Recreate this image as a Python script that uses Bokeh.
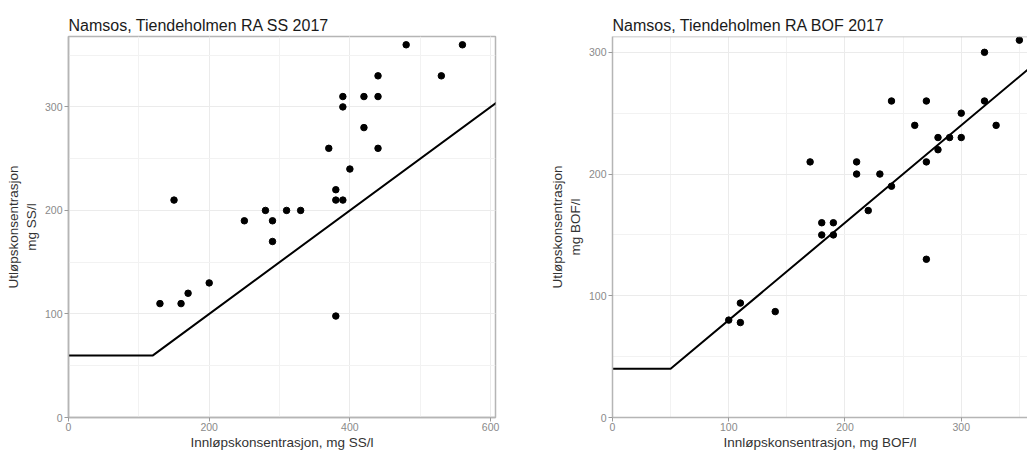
from bokeh.plotting import figure
from bokeh.layouts import row
from bokeh.models import SingleIntervalTicker, Range1d, Span
from bokeh.embed import file_html
from bokeh.resources import INLINE

# Suspended solids (SS), mg/l: inlet vs outlet, 2017
ss_inn = [130, 150, 160, 170, 200, 250, 280, 290, 290, 310, 330, 370, 380, 380,
          380, 390, 390, 390, 400, 420, 420, 440, 440, 440, 480, 530, 560]
ss_ut = [110, 210, 110, 120, 130, 190, 200, 190, 170, 200, 200, 260, 220, 210,
         98, 210, 300, 310, 240, 310, 280, 330, 310, 260, 360, 330, 360]
# Discharge requirement for SS (outlet limit vs inlet)
ss_krav_x = [0, 120, 640]
ss_krav_y = [60, 60, 320]

# Biological oxygen demand (BOF), mg/l: inlet vs outlet, 2017
bof_inn = [100, 110, 110, 140, 170, 180, 180, 190, 190, 210, 210, 220, 230, 240,
           240, 260, 270, 270, 270, 280, 280, 290, 300, 300, 320, 320, 330, 350]
bof_ut = [80, 94, 78, 87, 210, 160, 150, 160, 150, 210, 200, 170, 200, 260,
          190, 240, 260, 210, 130, 230, 220, 230, 250, 230, 300, 260, 240, 310]
# Discharge requirement for BOF
bof_krav_x = [0, 50, 400]
bof_krav_y = [40, 40, 320]

FONT = "Liberation Sans"
BORDER = "#b5b5b5"


def panel(title, xs, ys, kx, ky, xmax, ymax, xstep, ylab, xlab,
          width, border_left, border_right):
    p = figure(width=width, height=452, title=title,
               x_range=Range1d(0, xmax), y_range=Range1d(0, ymax),
               output_backend="svg", toolbar_location=None,
               min_border_left=border_left, min_border_right=border_right,
               min_border_top=36, min_border_bottom=35)
    p.background_fill_color = "white"
    p.border_fill_color = "white"
    p.outline_line_color = BORDER
    p.outline_line_width = 1.5

    p.title.text_font = FONT
    p.title.text_font_size = "16px"
    p.title.text_font_style = "normal"
    p.title.text_color = "#1a1a1a"
    p.title.align = "left"
    p.title.offset = 0
    p.title.standoff = 6

    p.xaxis.ticker = SingleIntervalTicker(interval=xstep, num_minor_ticks=2)
    p.yaxis.ticker = SingleIntervalTicker(interval=100, num_minor_ticks=2)

    for ax in (p.xaxis, p.yaxis):
        ax.axis_line_color = BORDER
        ax.axis_line_width = 1.5
        ax.major_tick_line_color = "#9a9a9a"
        ax.major_tick_out = 4
        ax.major_tick_in = 0
        ax.minor_tick_line_color = None
        ax.major_label_text_font = FONT
        ax.major_label_text_font_size = "10.5px"
        ax.major_label_text_color = "#8a8a8a"
        ax.major_label_standoff = 1
        ax.axis_label_text_font = FONT
        ax.axis_label_text_font_size = "13.5px"
        ax.axis_label_text_font_style = "normal"
        ax.axis_label_text_color = "#333333"
        ax.axis_label_standoff = 1

    p.yaxis.major_label_standoff = 2
    p.yaxis.axis_label_standoff = 3

    p.xaxis.axis_label = xlab
    p.yaxis.axis_label = ylab

    for g in (p.xgrid, p.ygrid):
        g.grid_line_color = "#ebebeb"
        g.grid_line_width = 1
        g.minor_grid_line_color = "#f2f2f2"
        g.minor_grid_line_width = 1

    p.line(kx, ky, line_color="black", line_width=2)
    p.scatter(xs, ys, size=6.5, fill_color="black", line_color="black")
    return p


p1 = panel("Namsos, Tiendeholmen RA SS 2017", ss_inn, ss_ut, ss_krav_x, ss_krav_y,
           607, 368, 200, "Utløpskonsentrasjon\nmg SS/l",
           "Innløpskonsentrasjon, mg SS/l", 540, 68, 45)

p2 = panel("Namsos, Tiendeholmen RA BOF 2017", bof_inn, bof_ut, bof_krav_x, bof_krav_y,
           357, 313, 100, "Utløpskonsentrasjon\nmg BOF/l",
           "Innløpskonsentrasjon, mg BOF/l", 487, 72, 0)
# the right-hand panel runs off the page edge: only the top edge is outlined
p2.outline_line_color = None
p2.add_layout(Span(location=313, dimension="width", line_color=BORDER, line_width=1.5))

layout = row(p1, p2)
open("out.html", "w").write(file_html(layout, INLINE))
